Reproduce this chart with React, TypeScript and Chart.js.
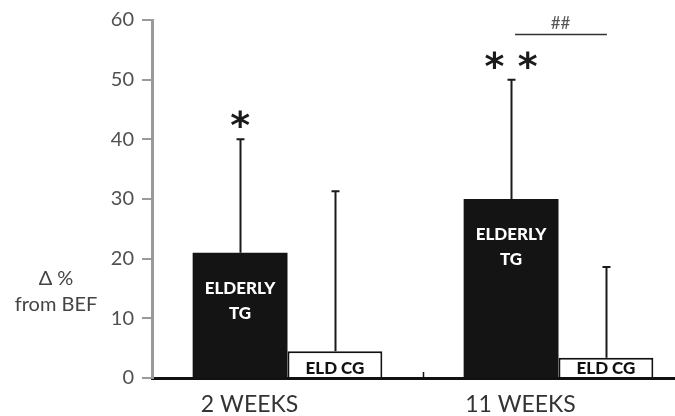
import React, { useEffect, useRef } from "react";
import { Chart, registerables } from "chart.js";

Chart.register(...registerables);

// Change from baseline (%), mean and SD, per group and time point
const weeks = ["2 WEEKS", "11 WEEKS"];
const tgMean = [21, 30];
const tgSd = [19, 20];
const cgMean = [4.5, 3.4];
const cgSd = [26.8, 15.2];
const tgStars = ["*", "* *"];
const betweenMark = ["", "##"];
const yTickMin = 0;
const yTickMax = 60;
const yTickStep = 10;

const FONT = "Lato, 'Open Sans', sans-serif";

function centeredText(ctx: CanvasRenderingContext2D, text: string, x: number, cy: number) {
  const m = ctx.measureText(text);
  const asc = m.actualBoundingBoxAscent;
  const desc = m.actualBoundingBoxDescent;
  ctx.textBaseline = "alphabetic";
  ctx.fillText(text, x, cy + (asc - desc) / 2);
}

const decorations = {
  id: "decorations",
  afterDatasetsDraw(chart: any) {
    const ctx: CanvasRenderingContext2D = chart.ctx;
    const xs = chart.scales.x;
    const ys = chart.scales.y;
    ctx.save();

    // upward error bars with caps
    const sds = [tgSd, cgSd];
    sds.forEach((sd, di) => {
      const meta = chart.getDatasetMeta(di);
      const data = chart.data.datasets[di].data as number[];
      meta.data.forEach((bar: any, i: number) => {
        const top = ys.getPixelForValue(data[i] + sd[i]);
        const x = Math.round(bar.x) + 0.5;
        ctx.strokeStyle = "#1a1a1a";
        ctx.lineWidth = 2;
        ctx.beginPath();
        ctx.moveTo(x, bar.y);
        ctx.lineTo(x, top);
        ctx.moveTo(x - 4, top);
        ctx.lineTo(x + 4, top);
        ctx.stroke();
      });
    });

    // labels inside the bars
    ctx.textAlign = "center";
    const tgMeta = chart.getDatasetMeta(0);
    tgMeta.data.forEach((bar: any) => {
      ctx.fillStyle = "#ffffff";
      ctx.font = `900 17px ${FONT}`;
      centeredText(ctx, "ELDERLY", bar.x, bar.y + 35);
      centeredText(ctx, "TG", bar.x, bar.y + 60);
    });
    const cgMeta = chart.getDatasetMeta(1);
    cgMeta.data.forEach((bar: any) => {
      ctx.fillStyle = "#111111";
      ctx.font = `900 17px ${FONT}`;
      centeredText(ctx, "ELD CG", bar.x, ys.bottom - 10);
    });

    // significance stars above the training group
    ctx.fillStyle = "#1a1a1a";
    ctx.font = `bold 38px 'DejaVu Sans', sans-serif`;
    tgMeta.data.forEach((bar: any, i: number) => {
      const top = ys.getPixelForValue(tgMean[i] + tgSd[i]);
      centeredText(ctx, tgStars[i], bar.x, top - 20);
    });

    // between-group bracket
    betweenMark.forEach((mark, i) => {
      if (!mark) return;
      const x1 = tgMeta.data[i].x;
      const x2 = cgMeta.data[i].x;
      const ly = Math.round(ys.getPixelForValue(57.7)) + 0.5;
      ctx.strokeStyle = "#333333";
      ctx.lineWidth = 1.5;
      ctx.beginPath();
      ctx.moveTo(x1 + 4, ly);
      ctx.lineTo(x2 + 1, ly);
      ctx.stroke();
      ctx.fillStyle = "#555555";
      ctx.font = `17px ${FONT}`;
      centeredText(ctx, mark, (x1 + x2) / 2 + 2, ly - 12);
    });

    // small inward tick between the two time points
    const mid = Math.round((xs.getPixelForValue(0) + xs.getPixelForValue(1)) / 2) + 0.5;
    ctx.strokeStyle = "#111111";
    ctx.lineWidth = 1.5;
    ctx.beginPath();
    ctx.moveTo(mid, ys.bottom);
    ctx.lineTo(mid, ys.bottom - 6);
    ctx.stroke();

    // y-axis caption
    ctx.fillStyle = "#444444";
    ctx.font = `20px ${FONT}`;
    centeredText(ctx, "Δ %", 56, 278);
    centeredText(ctx, "from BEF", 56, 304);

    ctx.restore();
  },
};

export default function App() {
  const canvasRef = useRef<HTMLCanvasElement | null>(null);

  useEffect(() => {
    if (!canvasRef.current) return;
    const chart = new Chart(canvasRef.current, {
      type: "bar",
      data: {
        labels: weeks,
        datasets: [
          {
            label: "ELDERLY TG",
            data: tgMean,
            backgroundColor: "#141414",
            borderColor: "#141414",
            borderWidth: 0,
          },
          {
            label: "ELD CG",
            data: cgMean,
            backgroundColor: "#ffffff",
            borderColor: "#111111",
            borderWidth: 2,
          },
        ],
      },
      options: {
        responsive: false,
        animation: false,
        layout: { padding: { top: 18, right: 0, bottom: 0, left: 0 } },
        plugins: {
          legend: { display: false },
          tooltip: { enabled: false },
        },
        datasets: {
          bar: { categoryPercentage: 0.7, barPercentage: 1.0 },
        },
        scales: {
          x: {
            grid: { display: false },
            border: { display: true, color: "#111111", width: 3 },
            ticks: {
              color: "#333333",
              font: { family: FONT, size: 23 },
              labelOffset: -38,
              padding: 5,
            },
            afterFit(scale: any) {
              scale.height = 38;
            },
          },
          y: {
            min: yTickMin,
            max: yTickMax,
            grid: {
              drawOnChartArea: false,
              drawTicks: true,
              tickLength: 10,
              color: "#9a9a9a",
              lineWidth: 2,
            },
            border: { display: true, color: "#9a9a9a", width: 3 },
            ticks: {
              stepSize: yTickStep,
              color: "#505050",
              font: { family: FONT, size: 20 },
              padding: 8,
            },
            afterFit(scale: any) {
              scale.width = 152;
            },
          },
        },
      },
      plugins: [decorations],
    });
    return () => chart.destroy();
  }, []);

  return (
    <div
      style={{
        position: "fixed",
        left: 0,
        top: 0,
        width: 675,
        height: 416,
        overflow: "hidden",
        background: "#ffffff",
      }}
    >
      <canvas ref={canvasRef} width={694} height={416} style={{ display: "block" }} />
    </div>
  );
}
